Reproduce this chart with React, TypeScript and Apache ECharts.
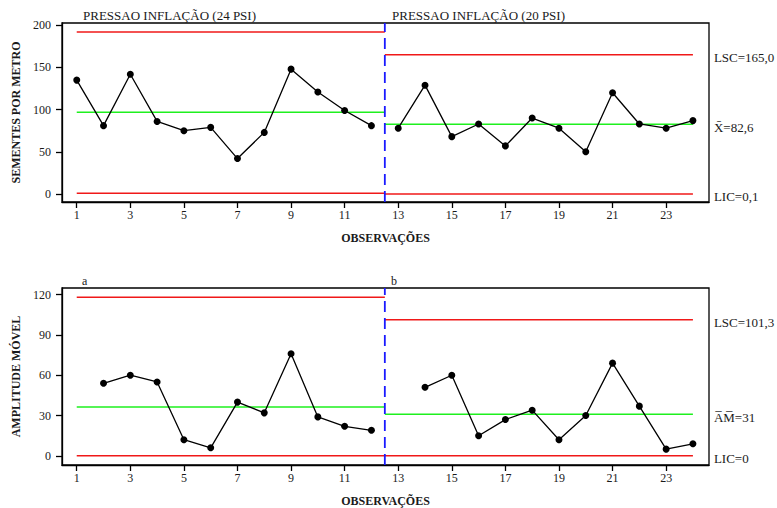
import React, { useEffect, useRef } from "react";
import * as echarts from "echarts";

// ---- data ----
const observations = [1, 2, 3, 4, 5, 6, 7, 8, 9, 10, 11, 12, 13, 14, 15, 16, 17, 18, 19, 20, 21, 22, 23, 24];
const seedsPerMeter = [135, 81, 142, 86, 75, 79, 42, 73, 148, 121, 99, 81, 78, 129, 68, 83, 57, 90, 78, 50, 120, 83, 78, 87];
const movingRange = [null, 54, 60, 55, 12, 6, 40, 32, 76, 29, 22, 19, null, 51, 60, 15, 27, 34, 12, 30, 69, 37, 5, 9];

const phaseBoundary = 12.5;
const phaseStart = 1;
const phaseEnd = 24;

// control limits [LSC, center, LIC] per phase
const topLimitsA = [192, 97, 1];
const topLimitsB = [165, 82.6, 0.1];
const mrLimitsA = [118, 36.4, 0];
const mrLimitsB = [101.3, 31, 0];

const topLimitLabels = ["LSC=165,0", "X\u0304=82,6", "LIC=0,1"];
const mrLimitLabels = ["LSC=101,3", "A\u0305M\u0305=31", "LIC=0"];

const xTicks = [1, 3, 5, 7, 9, 11, 13, 15, 17, 19, 21, 23];
const topYTicks = [0, 50, 100, 150, 200];
const mrYTicks = [0, 30, 60, 90, 120];

const phaseTitles = ["PRESSAO INFLAÇÃO (24 PSI)", "PRESSAO INFLAÇÃO (20 PSI)"];
const panelLetters = ["a", "b"];

const FONT = "'Liberation Serif', serif";
const TXT = "#1a1a1a";
const RED = "#f01818";
const GREEN = "#1ef01e";
const BLUE = "#1a1aff";

export default function App() {
  const ref = useRef<HTMLDivElement>(null);
  useEffect(() => {
    if (!ref.current) return;
    const chart = echarts.init(ref.current, undefined, { renderer: "svg" });

    const X_MIN = 0.45, X_MAX = 24.6;
    const TOP_MIN = -9.5, TOP_MAX = 202.7;
    const MR_MIN = -6.8, MR_MAX = 124.9;

    const xAxisBase = (gridIndex: number) => ({
      type: "value",
      gridIndex,
      min: X_MIN,
      max: X_MAX,
      name: "OBSERVAÇÕES",
      nameLocation: "middle",
      nameGap: 30,
      nameTextStyle: { fontFamily: FONT, fontWeight: "bold", fontSize: 12, color: TXT },
      splitLine: { show: false },
      axisLine: { show: true, onZero: false, lineStyle: { color: "#000", width: 1.3 } },
      axisTick: { show: true, customValues: xTicks, length: 6, lineStyle: { color: "#000", width: 1.3 } },
      axisLabel: { customValues: xTicks, fontFamily: FONT, fontSize: 12, color: TXT, margin: 7 },
    });
    const yAxisBase = (gridIndex: number, min: number, max: number, ticks: number[], name: string) => ({
      type: "value",
      gridIndex,
      min,
      max,
      name,
      nameLocation: "middle",
      nameGap: 35,
      nameTextStyle: { fontFamily: FONT, fontWeight: "bold", fontSize: 12, color: TXT },
      splitLine: { show: false },
      axisLine: { show: true, onZero: false, lineStyle: { color: "#000", width: 1.3 } },
      axisTick: { show: true, customValues: ticks, length: 6, lineStyle: { color: "#000", width: 1.3 } },
      axisLabel: { customValues: ticks, fontFamily: FONT, fontSize: 12, color: TXT, margin: 11 },
    });

    const seg = (vals: (number | null)[], from: number, to: number) => {
      const out: number[][] = [];
      observations.forEach((o, i) => {
        const v = vals[i];
        if (o >= from && o <= to && v != null) out.push([o, v]);
      });
      return out;
    };

    const dataSeries = (idx: number, data: number[][]) => ({
      type: "line",
      xAxisIndex: idx,
      yAxisIndex: idx,
      data,
      symbol: "circle",
      symbolSize: 7,
      itemStyle: { color: "#000" },
      lineStyle: { color: "#000", width: 1.3 },
      silent: true,
      z: 5,
    });

    const hLine = (idx: number, y: number, x0: number, x1: number, color: string, label?: string) => ({
      type: "line",
      xAxisIndex: idx,
      yAxisIndex: idx,
      data: [[x0, y], [x1, y]],
      symbol: "none",
      lineStyle: { color, width: 1.5 },
      silent: true,
      z: 3,
      endLabel: label
        ? {
            show: true,
            formatter: () => label,
            distance: 21,
            offset: [0, 3],
            fontFamily: FONT,
            fontSize: 13,
            color: TXT,
          }
        : { show: false },
    });

    const vLine = (idx: number, y0: number, y1: number) => ({
      type: "line",
      xAxisIndex: idx,
      yAxisIndex: idx,
      data: [[phaseBoundary, y0], [phaseBoundary, y1]],
      symbol: "none",
      lineStyle: { color: BLUE, width: 1.8, type: [11, 6] },
      silent: true,
      z: 4,
    });

    const limitsFor = (idx: number, a: number[], b: number[], labels: string[]) => {
      const colors = [RED, GREEN, RED];
      const out: any[] = [];
      a.forEach((y, k) => out.push(hLine(idx, y, phaseStart, phaseBoundary, colors[k])));
      b.forEach((y, k) => out.push(hLine(idx, y, phaseBoundary, phaseEnd, colors[k], labels[k])));
      return out;
    };

    const option: any = {
      animation: false,
      backgroundColor: "#fff",
      grid: [
        { left: 62, top: 23, width: 647, height: 179, show: true, borderColor: "#000", borderWidth: 1.3, backgroundColor: "transparent" },
        { left: 62, top: 288, width: 647, height: 181, show: true, borderColor: "#000", borderWidth: 1.3, backgroundColor: "transparent" },
      ],
      xAxis: [xAxisBase(0), xAxisBase(1)],
      yAxis: [
        yAxisBase(0, TOP_MIN, TOP_MAX, topYTicks, "SEMENTES POR METRO"),
        yAxisBase(1, MR_MIN, MR_MAX, mrYTicks, "AMPLITUDE MÓVEL"),
      ],
      series: [
        ...limitsFor(0, topLimitsA, topLimitsB, topLimitLabels),
        ...limitsFor(1, mrLimitsA, mrLimitsB, mrLimitLabels),
        vLine(0, TOP_MIN, TOP_MAX),
        vLine(1, MR_MIN, MR_MAX),
        dataSeries(0, seg(seedsPerMeter, phaseStart, 12)),
        dataSeries(0, seg(seedsPerMeter, 13, phaseEnd)),
        dataSeries(1, seg(movingRange, phaseStart, 12)),
        dataSeries(1, seg(movingRange, 13, phaseEnd)),
      ],
      graphic: [
        { type: "text", left: 83, top: 9, style: { text: phaseTitles[0], fontFamily: FONT, fontSize: 13, fill: TXT } },
        { type: "text", left: 392, top: 9, style: { text: phaseTitles[1], fontFamily: FONT, fontSize: 13, fill: TXT } },
        { type: "text", left: 82, top: 275, style: { text: panelLetters[0], fontFamily: FONT, fontSize: 12, fill: TXT } },
        { type: "text", left: 391, top: 275, style: { text: panelLetters[1], fontFamily: FONT, fontSize: 12, fill: TXT } },
      ],
    };
    chart.setOption(option);
    return () => chart.dispose();
  }, []);

  return (
    <div
      ref={ref}
      style={{ position: "absolute", left: 0, top: 0, width: 777, height: 508, background: "#fff" }}
    />
  );
}
